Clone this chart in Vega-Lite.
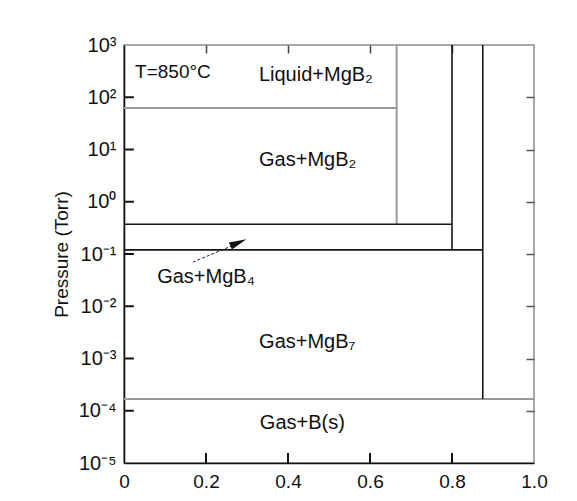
{
  "$schema": "https://vega.github.io/schema/vega-lite/v6.json",
  "width": 410,
  "height": 418,
  "autosize": {"type": "none"},
  "padding": {"left": 124, "top": 45, "right": 43, "bottom": 38},
  "background": "white",
  "config": {
    "font": "Liberation Sans",
    "view": {"stroke": "#8a8a8a", "strokeWidth": 1.5},
    "axis": {
      "grid": false,
      "labelFont": "Liberation Sans",
      "labelFontSize": 19,
      "labelColor": "#111",
      "titleFont": "Liberation Sans",
      "titleFontSize": 19,
      "titleFontWeight": "normal",
      "titleColor": "#111",
      "tickColor": "#111",
      "tickWidth": 1.5,
      "domainColor": "#111",
      "domainWidth": 1.6
    }
  },
  "datasets": {
    "gray_lines": [
      {"x": 0, "x2": 0.665, "p": 62, "p2": 62},
      {"x": 0.665, "x2": 0.665, "p": 1000, "p2": 0.37},
      {"x": 0, "x2": 1, "p": 0.000168, "p2": 0.000168}
    ],
    "black_lines": [
      {"x": 0, "x2": 0.8, "p": 0.37, "p2": 0.37},
      {"x": 0.8, "x2": 0.8, "p": 1000, "p2": 0.12},
      {"x": 0, "x2": 0.875, "p": 0.12, "p2": 0.12},
      {"x": 0.875, "x2": 0.875, "p": 1000, "p2": 0.000168}
    ],
    "left_ticks": [
      {"p": 0.0001}, {"p": 0.001}, {"p": 0.01}, {"p": 0.1}, {"p": 1}, {"p": 10}, {"p": 100}
    ],
    "bottom_ticks": [
      {"x": 0.2}, {"x": 0.4}, {"x": 0.6}, {"x": 0.8}
    ],
    "arrow_line": [
      {"x": 0.168, "p": 0.07},
      {"x": 0.262, "p": 0.142}
    ],
    "arrow_head": [
      {"x": 0.279, "p": 0.165}
    ],
    "labels": [
      {"x": 0.027, "p": 300, "label": "T=850°C", "anchor": "left"},
      {"x": 0.468, "p": 270, "label": "Liquid+MgB₂", "anchor": "center"},
      {"x": 0.448, "p": 6.3, "label": "Gas+MgB₂", "anchor": "center"},
      {"x": 0.2, "p": 0.036, "label": "Gas+MgB₄", "anchor": "center"},
      {"x": 0.447, "p": 0.0021, "label": "Gas+MgB₇", "anchor": "center"},
      {"x": 0.435, "p": 0.000058, "label": "Gas+B(s)", "anchor": "center"}
    ]
  },
  "resolve": {"axis": {"x": "independent", "y": "independent"}},
  "layer": [
    {
      "data": {"name": "gray_lines"},
      "mark": {"type": "rule", "color": "#9a9a9a", "strokeWidth": 2},
      "encoding": {
        "x": {
          "field": "x", "type": "quantitative",
          "scale": {"domain": [0, 1], "nice": false, "zero": false},
          "axis": {
            "orient": "bottom", "title": null,
            "values": [0, 0.2, 0.4, 0.6, 0.8, 1.0],
            "labelExpr": "datum.value == 0 ? '0' : format(datum.value, '.1f')",
            "ticks": false, "labelPadding": 9, "labelFlush": false
          }
        },
        "x2": {"field": "x2"},
        "y": {
          "field": "p", "type": "quantitative",
          "scale": {"type": "log", "domain": [0.00001, 1000], "nice": false},
          "axis": {
            "orient": "left",
            "title": "Pressure (Torr)",
            "values": [0.00001, 0.0001, 0.001, 0.01, 0.1, 1, 10, 100, 1000],
            "labelExpr": "'10' + (datum.value < 0.5 ? '⁻' : '') + ['⁰','¹','²','³','⁴','⁵'][abs(round(log(datum.value)/LN10))]",
            "ticks": false, "labelPadding": 8, "labelFlush": false, "labelFontSize": 20,
            "titleX": -63, "titleY": 209, "titleAlign": "center", "titleBaseline": "middle", "titleAngle": -90
          }
        },
        "y2": {"field": "p2"}
      }
    },
    {
      "data": {"name": "black_lines"},
      "mark": {"type": "rule", "color": "#151515", "strokeWidth": 1.6},
      "encoding": {
        "x": {
          "field": "x", "type": "quantitative",
          "axis": {
            "orient": "top", "title": null, "labels": false, "domain": false,
            "values": [0.2, 0.4, 0.6, 0.8],
            "tickSize": 8, "offset": -8, "tickColor": "#444"
          }
        },
        "x2": {"field": "x2"},
        "y": {
          "field": "p", "type": "quantitative",
          "axis": {
            "orient": "right", "title": null, "labels": false, "domain": false,
            "values": [0.0001, 0.001, 0.01, 0.1, 1, 10, 100],
            "tickSize": 8, "offset": -8, "tickColor": "#555"
          }
        },
        "y2": {"field": "p2"}
      }
    },
    {
      "data": {"name": "left_ticks"},
      "mark": {"type": "rule", "color": "#111", "strokeWidth": 2},
      "encoding": {
        "x": {"datum": 0, "type": "quantitative", "axis": null},
        "x2": {"datum": 0.024},
        "y": {"field": "p", "type": "quantitative", "axis": null}
      }
    },
    {
      "data": {"name": "bottom_ticks"},
      "mark": {"type": "rule", "color": "#111", "strokeWidth": 2},
      "encoding": {
        "x": {"field": "x", "type": "quantitative", "axis": null},
        "y": {"datum": 0.00001, "type": "quantitative", "axis": null},
        "y2": {"datum": 0.0000155}
      }
    },
    {
      "data": {"name": "arrow_line"},
      "mark": {"type": "line", "color": "#222", "strokeWidth": 1, "strokeDash": [3, 2]},
      "encoding": {
        "x": {"field": "x", "type": "quantitative", "axis": null},
        "y": {"field": "p", "type": "quantitative", "axis": null}
      }
    },
    {
      "data": {"name": "arrow_head"},
      "mark": {"type": "point", "shape": "M1,0L-1,-0.45L-1,0.45Z", "filled": true, "color": "#111", "size": 300, "angle": -23, "opacity": 1},
      "encoding": {
        "x": {"field": "x", "type": "quantitative", "axis": null},
        "y": {"field": "p", "type": "quantitative", "axis": null}
      }
    },
    {
      "data": {"name": "labels"},
      "transform": [{"filter": "datum.anchor == 'center'"}],
      "mark": {"type": "text", "fontSize": 20, "font": "Liberation Sans", "color": "#111", "align": "center", "baseline": "middle"},
      "encoding": {
        "x": {"field": "x", "type": "quantitative", "axis": null},
        "y": {"field": "p", "type": "quantitative", "axis": null},
        "text": {"field": "label"}
      }
    },
    {
      "data": {"name": "labels"},
      "transform": [{"filter": "datum.anchor == 'left'"}],
      "mark": {"type": "text", "fontSize": 19, "font": "Liberation Sans", "color": "#111", "align": "left", "baseline": "middle"},
      "encoding": {
        "x": {"field": "x", "type": "quantitative", "axis": null},
        "y": {"field": "p", "type": "quantitative", "axis": null},
        "text": {"field": "label"}
      }
    }
  ]
}
